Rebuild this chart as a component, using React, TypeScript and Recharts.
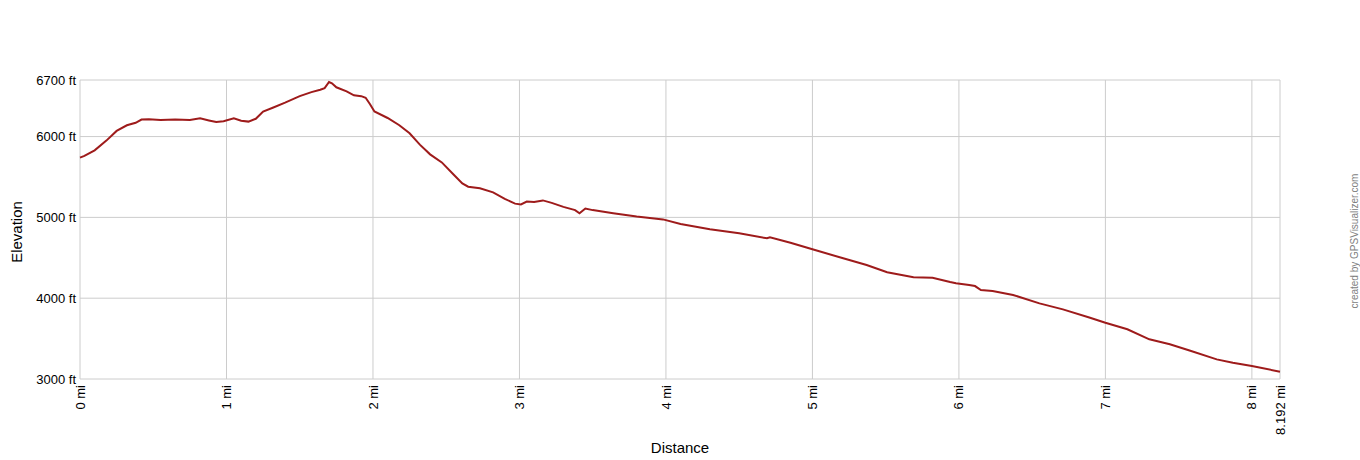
import React from "react";
import { LineChart, Line, XAxis, YAxis, CartesianGrid } from "recharts";

const distances = [
  0.0, 0.03, 0.1, 0.18, 0.25, 0.32, 0.38, 0.42, 0.47, 0.55, 0.65, 0.75, 0.82, 0.88, 0.93, 0.98,
  1.05, 1.1, 1.15, 1.2, 1.25, 1.32, 1.4, 1.5, 1.58, 1.64, 1.67, 1.7, 1.72, 1.75, 1.82, 1.87,
  1.92, 1.95, 1.98, 2.01, 2.1, 2.18, 2.25, 2.32, 2.39, 2.47, 2.55, 2.61, 2.65, 2.73, 2.82,
  2.9, 2.97, 3.01, 3.05, 3.1, 3.16, 3.22, 3.3, 3.38, 3.41, 3.45, 3.5, 3.64, 3.8, 3.98, 4.1,
  4.3, 4.5, 4.69, 4.71, 4.85, 5.0, 5.21, 5.37, 5.51, 5.69, 5.82, 5.94, 5.98, 6.07, 6.11,
  6.15, 6.23, 6.37, 6.55, 6.71, 6.89, 7.0, 7.15, 7.3, 7.44, 7.58, 7.76, 7.87, 8.0, 8.192,
];

const elevations = [
  5740, 5760, 5830, 5950, 6070, 6140, 6170, 6210, 6215, 6205, 6210, 6205, 6225, 6200, 6180, 6190,
  6225, 6195, 6185, 6220, 6310, 6360, 6420, 6500, 6550, 6580, 6600, 6675, 6660, 6610, 6560, 6510,
  6500, 6480, 6400, 6310, 6230, 6140, 6040, 5900, 5780, 5680, 5530, 5420, 5380, 5360, 5310,
  5230, 5170, 5160, 5195, 5190, 5210, 5180, 5130, 5090, 5050, 5110, 5090, 5050, 5010, 4975, 4917,
  4852, 4803, 4741, 4754, 4686, 4605, 4494, 4411, 4321, 4259, 4254, 4200, 4184, 4163, 4150,
  4101, 4089, 4040, 3936, 3862, 3762, 3697, 3615, 3491, 3429, 3350, 3243, 3202, 3161, 3090,
];

const xTicks = [0, 1, 2, 3, 4, 5, 6, 7, 8, 8.192];
const yTicks = [3000, 4000, 5000, 6000, 6700];

const data = distances.map((d, i) => ({ d, e: elevations[i] }));

const FONT = '"Liberation Sans", Arial, sans-serif';

const XTick = (props: any) => {
  const { x, y, payload } = props;
  return (
    <g transform={`translate(${x},${y + 4}) rotate(-90)`}>
      <text x={0} y={0} dy="0.35em" textAnchor="end" fontSize={13} fontFamily={FONT} fill="#000">
        {`${payload.value} mi`}
      </text>
    </g>
  );
};

const YTick = (props: any) => {
  const { x, y, payload } = props;
  return (
    <text x={x} y={y} dy="0.35em" textAnchor="end" fontSize={13} fontFamily={FONT} fill="#000">
      {`${payload.value} ft`}
    </text>
  );
};

export default function App() {
  return (
    <div style={{ position: "absolute", left: 0, top: 0, width: 1360, height: 460, background: "#fff" }}>
      <LineChart
        width={1360}
        height={460}
        data={data}
        margin={{ top: 80, right: 80, bottom: 31, left: 0 }}
      >
        <CartesianGrid stroke="#cccccc" strokeWidth={1} />
        <XAxis
          dataKey="d"
          type="number"
          domain={[0, 8.192]}
          ticks={xTicks}
          interval={0}
          axisLine={false}
          tickLine={false}
          tickSize={0}
          height={50}
          tick={<XTick />}
        />
        <YAxis
          type="number"
          domain={[3000, 6700]}
          ticks={yTicks}
          interval={0}
          axisLine={false}
          tickLine={false}
          tickSize={0}
          tickMargin={4}
          width={80}
          tick={<YTick />}
        />
        <Line
          type="linear"
          dataKey="e"
          stroke="#9e1b1b"
          strokeWidth={2}
          dot={false}
          isAnimationActive={false}
        />
      </LineChart>
      <svg
        width={1360}
        height={460}
        style={{ position: "absolute", left: 0, top: 0, pointerEvents: "none" }}
      >
        <text
          transform="translate(17,232) rotate(-90)"
          textAnchor="middle"
          dy="0.35em"
          fontSize={15}
          fontFamily={FONT}
          fill="#000"
        >
          Elevation
        </text>
        <text x={680} y={453} textAnchor="middle" fontSize={15} fontFamily={FONT} fill="#000">
          Distance
        </text>
        <text
          transform="translate(1354,241) rotate(-90)"
          textAnchor="middle"
          dy="0.35em"
          fontSize={10}
          fontFamily={FONT}
          fill="#808080"
        >
          created by GPSVisualizer.com
        </text>
      </svg>
    </div>
  );
}
